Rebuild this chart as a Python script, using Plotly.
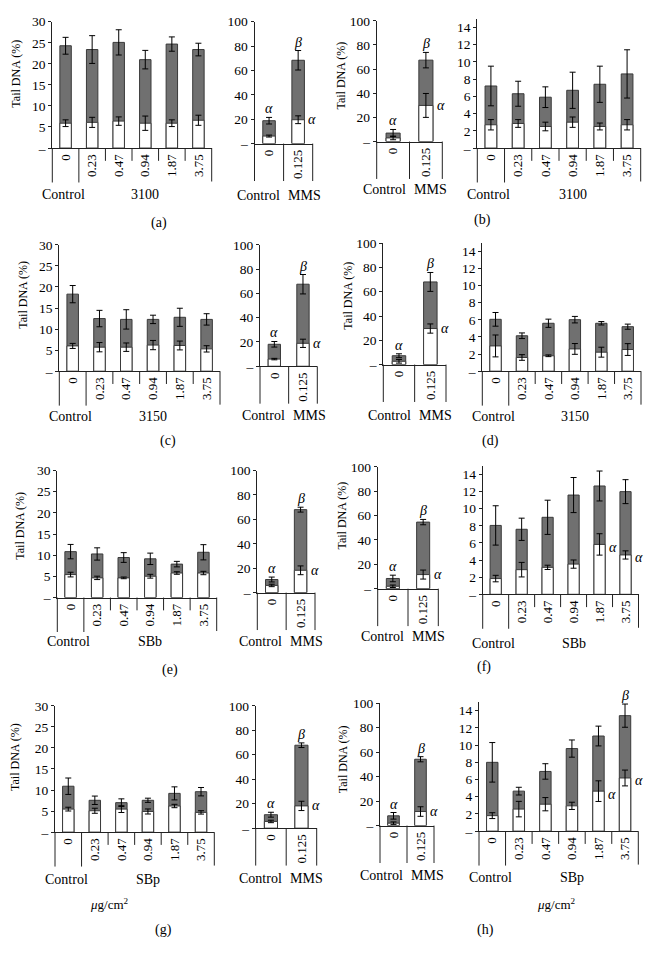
import plotly.graph_objects as go

W, H = 649, 953
FONT = "Liberation Serif"

DOSES = ["0", "0.23", "0.47", "0.94", "1.87", "3.75"]
MMS_DOSES = ["0", "0.125"]

# ---------------- data (Tail DNA %, total = grey, low = white) ----------------
a_tot = [24.3, 23.4, 25.1, 21.0, 24.7, 23.4]
a_tot_err = [2.0, 3.3, 3.0, 2.2, 1.7, 1.5]
a_low = [5.9, 6.1, 6.4, 5.9, 5.9, 6.6]
a_low_err = [0.8, 1.2, 1.0, 1.7, 0.8, 1.2]
a_mms_tot = [18.8, 68.4]
a_mms_tot_err = [2.7, 8.0]
a_mms_low = [6.2, 19.6]
a_mms_low_err = [0.8, 3.2]

b_mms_tot = [7.0, 67.4]
b_mms_tot_err = [3.0, 6.4]
b_mms_low = [3.0, 29.9]
b_mms_low_err = [1.5, 9.9]
b_tot = [7.2, 6.3, 5.9, 6.7, 7.4, 8.6]
b_tot_err = [2.3, 1.45, 1.2, 2.1, 2.1, 2.8]
b_low = [2.7, 2.85, 2.5, 3.0, 2.5, 2.7]
b_low_err = [0.6, 0.45, 0.5, 0.6, 0.4, 0.6]

c_tot = [18.3, 12.5, 12.3, 12.3, 12.8, 12.3]
c_tot_err = [2.05, 1.95, 2.3, 1.0, 2.15, 1.35]
c_low = [6.0, 5.7, 5.7, 6.2, 6.1, 5.3]
c_low_err = [0.6, 1.1, 1.0, 1.1, 1.05, 0.75]
c_mms_tot = [18.1, 67.6]
c_mms_tot_err = [2.3, 8.0]
c_mms_low = [5.9, 18.9]
c_mms_low_err = [0.6, 3.4]

d_mms_tot = [7.3, 68.1]
d_mms_tot_err = [1.6, 7.8]
d_mms_low = [2.7, 29.7]
d_mms_low_err = [1.5, 3.8]
d_tot = [6.06, 4.14, 5.6, 6.02, 5.6, 5.2]
d_tot_err = [0.8, 0.33, 0.48, 0.38, 0.2, 0.3]
d_low = [2.95, 1.6, 1.8, 2.6, 2.22, 2.53]
d_low_err = [1.28, 0.33, 0.1, 0.63, 0.58, 0.69]

e_tot = [10.85, 10.3, 9.46, 9.15, 7.9, 10.7]
e_tot_err = [1.7, 1.45, 1.15, 1.35, 0.65, 1.8]
e_low = [5.43, 4.65, 4.65, 5.04, 5.8, 5.8]
e_low_err = [0.55, 0.4, 0.2, 0.45, 0.3, 0.4]
e_mms_tot = [10.75, 68.0]
e_mms_tot_err = [2.0, 2.0]
e_mms_low = [5.9, 18.3]
e_mms_low_err = [1.0, 3.6]

f_mms_tot = [8.4, 54.7]
f_mms_tot_err = [2.7, 2.2]
f_mms_low = [2.0, 11.6]
f_mms_low_err = [1.0, 3.7]
f_tot = [8.05, 7.6, 9.0, 11.6, 12.66, 12.0]
f_tot_err = [2.3, 1.3, 2.0, 2.05, 1.75, 1.4]
f_low = [1.84, 2.88, 3.15, 3.53, 5.83, 4.6]
f_low_err = [0.38, 0.85, 0.25, 0.48, 1.25, 0.48]

g_tot = [10.9, 7.56, 7.0, 7.56, 9.2, 9.6]
g_tot_err = [1.95, 1.0, 0.9, 0.5, 1.55, 1.0]
g_low = [5.46, 5.07, 5.46, 4.9, 6.2, 4.68]
g_low_err = [0.45, 0.6, 0.8, 0.6, 0.4, 0.4]
g_mms_tot = [11.0, 67.8]
g_mms_tot_err = [2.0, 1.9]
g_mms_low = [5.5, 18.2]
g_mms_low_err = [1.0, 3.8]

h_mms_tot = [8.0, 54.2]
h_mms_tot_err = [2.7, 2.1]
h_mms_low = [2.0, 11.5]
h_mms_low_err = [1.0, 3.9]
h_tot = [8.0, 4.65, 6.94, 9.6, 11.06, 13.43]
h_tot_err = [2.3, 0.45, 0.9, 1.0, 1.15, 1.35]
h_low = [1.8, 2.56, 3.13, 2.94, 4.65, 6.18]
h_low_err = [0.34, 0.9, 0.77, 0.42, 1.2, 0.92]

Y_TITLE = "Tail DNA (%)"
UNIT = "<i>μ</i>g/cm<sup>2</sup>"

# ---------------- panel geometry (pixels) ----------------
# x0, x1, px of top labelled tick, value of that tick, px of zero, axis max, tick step
GEO = {
    "a_dose": (52.3, 211.7, 15.0, 30, 143.3, 30, 5),
    "a_mms": (254.5, 312.7, 15.0, 100, 138.8, 100, 20),
    "b_mms": (376.7, 442.3, 14.0, 100, 136.7, 100, 20),
    "b_dose": (477.3, 640.7, 20.7, 14, 143.3, 15, 2),
    "c_dose": (59.3, 220.0, 241.7, 30, 370.0, 30, 5),
    "c_mms": (260.0, 317.3, 241.7, 100, 365.0, 100, 20),
    "d_mms": (383.3, 446.0, 240.0, 100, 363.3, 100, 20),
    "d_dose": (482.3, 641.0, 248.3, 14, 370.0, 15, 2),
    "e_dose": (57.3, 216.7, 471.0, 30, 600.0, 30, 5),
    "e_mms": (257.3, 315.0, 471.0, 100, 595.0, 100, 20),
    "f_mms": (377.7, 438.3, 467.3, 100, 591.0, 100, 20),
    "f_dose": (482.7, 638.5, 475.0, 14, 596.7, 15, 2),
    "g_dose": (55.0, 214.3, 710.0, 30, 838.3, 30, 5),
    "g_mms": (255.7, 316.7, 710.0, 100, 834.3, 100, 20),
    "h_mms": (380.0, 434.0, 707.3, 100, 831.7, 100, 20),
    "h_dose": (479.0, 638.3, 715.0, 14, 837.3, 15, 2),
}
GROUP_Y = {
    "a_dose": 190, "a_mms": 191.5, "b_mms": 185, "b_dose": 190,
    "c_dose": 416.5, "c_mms": 415, "d_mms": 415, "d_dose": 416.5,
    "e_dose": 645, "e_mms": 645, "f_mms": 640, "f_dose": 646.5,
    "g_dose": 886, "g_mms": 885, "h_mms": 882.5, "h_dose": 884.5,
}
YTITLES = [(15.7, 68), (340.7, 70), (23.3, 292), (348.3, 293),
           (20, 527), (341.7, 517), (15, 762), (343.3, 764)]
LETTERS = [("(a)", 159, 219), ("(b)", 482.5, 216), ("(c)", 168, 441), ("(d)", 490.5, 441),
           ("(e)", 170, 674), ("(f)", 484, 671), ("(g)", 163, 938), ("(h)", 485, 938)]
UNITS = [(109, 911), (556, 911)]

MMS_GREEK = [("α", 0, "top"), ("β", 1, "top"), ("α", 1, "right")]
PANELS = [
    ("a_dose", DOSES, "3100", a_tot, a_tot_err, a_low, a_low_err, []),
    ("a_mms", MMS_DOSES, "MMS", a_mms_tot, a_mms_tot_err, a_mms_low, a_mms_low_err, MMS_GREEK),
    ("b_mms", MMS_DOSES, "MMS", b_mms_tot, b_mms_tot_err, b_mms_low, b_mms_low_err, MMS_GREEK),
    ("b_dose", DOSES, "3100", b_tot, b_tot_err, b_low, b_low_err, []),
    ("c_dose", DOSES, "3150", c_tot, c_tot_err, c_low, c_low_err, []),
    ("c_mms", MMS_DOSES, "MMS", c_mms_tot, c_mms_tot_err, c_mms_low, c_mms_low_err, MMS_GREEK),
    ("d_mms", MMS_DOSES, "MMS", d_mms_tot, d_mms_tot_err, d_mms_low, d_mms_low_err, MMS_GREEK),
    ("d_dose", DOSES, "3150", d_tot, d_tot_err, d_low, d_low_err, []),
    ("e_dose", DOSES, "SBb", e_tot, e_tot_err, e_low, e_low_err, []),
    ("e_mms", MMS_DOSES, "MMS", e_mms_tot, e_mms_tot_err, e_mms_low, e_mms_low_err, MMS_GREEK),
    ("f_mms", MMS_DOSES, "MMS", f_mms_tot, f_mms_tot_err, f_mms_low, f_mms_low_err, MMS_GREEK),
    ("f_dose", DOSES, "SBb", f_tot, f_tot_err, f_low, f_low_err,
     [("α", 4, "rightlow"), ("α", 5, "rightlow")]),
    ("g_dose", DOSES, "SBp", g_tot, g_tot_err, g_low, g_low_err, []),
    ("g_mms", MMS_DOSES, "MMS", g_mms_tot, g_mms_tot_err, g_mms_low, g_mms_low_err, MMS_GREEK),
    ("h_mms", MMS_DOSES, "MMS", h_mms_tot, h_mms_tot_err, h_mms_low, h_mms_low_err, MMS_GREEK),
    ("h_dose", DOSES, "SBp", h_tot, h_tot_err, h_low, h_low_err,
     [("α", 4, "rightlow"), ("β", 5, "top"), ("α", 5, "rightlow")]),
]

GREY = "#707070"
EDGE = "#3a3a3a"
BARW = 0.43

fig = go.Figure()
layout = dict(width=W, height=H, margin=dict(l=0, r=0, t=0, b=0),
              paper_bgcolor="white", plot_bgcolor="white", barmode="overlay",
              showlegend=False, hovermode=False,
              font=dict(family=FONT, color="black", size=13))
annotations = []
shapes = []


def clamp(v):
    return max(0.0, min(1.0, v))


def px_x(p):
    return p / W


def px_y(p):
    return 1 - p / H


for i, (key, cats, group, tot, terr, low, lerr, greek) in enumerate(PANELS, start=1):
    x0, x1, tick_px, tick_val, zero_px, ymax, step = GEO[key]
    scale = (zero_px - tick_px) / tick_val
    top_px = zero_px - ymax * scale
    xa = "x" if i == 1 else f"x{i}"
    ya = "y" if i == 1 else f"y{i}"
    xk = "xaxis" if i == 1 else f"xaxis{i}"
    yk = "yaxis" if i == 1 else f"yaxis{i}"
    n = len(cats)

    tickvals = [v for v in range(0, int(ymax) + 1, step)]
    ticktext = ["–"] + [str(v) for v in tickvals[1:]]

    layout[xk] = dict(domain=[clamp(px_x(x0)), clamp(px_x(x1))], anchor=ya, type="category",
                      range=[-0.5, n - 0.5], showline=True, linecolor="#222", linewidth=1,
                      showgrid=False, zeroline=False, ticks="", tickangle=-90,
                      tickfont=dict(family=FONT, size=13, color="black"), fixedrange=True)
    layout[yk] = dict(domain=[clamp(px_y(zero_px)), clamp(px_y(top_px))], anchor=xa,
                      range=[0, ymax],
                      tickvals=tickvals, ticktext=ticktext, showline=True, linecolor="#222",
                      linewidth=1, showgrid=False, zeroline=False, ticks="outside",
                      ticklen=3, tickcolor="#222",
                      tickfont=dict(family=FONT, size=13.5, color="black"), fixedrange=True)

    fig.add_trace(go.Bar(x=cats, y=tot, width=BARW, xaxis=xa, yaxis=ya,
                         marker=dict(color=GREY, line=dict(color=EDGE, width=1)),
                         error_y=dict(type="data", array=terr, color="black",
                                      thickness=1, width=3)))
    fig.add_trace(go.Bar(x=cats, y=low, width=BARW, xaxis=xa, yaxis=ya,
                         marker=dict(color="white", line=dict(color=EDGE, width=1)),
                         error_y=dict(type="data", array=lerr, color="black",
                                      thickness=1, width=3)))

    # category separators below the axis (Excel multi-level axis look)
    line = dict(color="#222", width=1)
    if n == 6:
        seps = [(0, 35), (1, 35), (2, 13), (3, 13), (4, 13), (5, 13), (6, 34)]
    else:
        seps = [(0, 38), (1, 38), (2, 38)]
    for k, ln in seps:
        shapes.append(dict(type="line", xref=f"{xa} domain", yref="paper",
                           x0=k / n, x1=k / n, y0=px_y(zero_px), y1=px_y(zero_px + ln),
                           line=line, layer="above"))

    # group labels
    gy = px_y(GROUP_Y[key])
    if n == 6:
        annotations.append(dict(text="Control", xref=f"{xa} domain", yref="paper",
                                x=0.5 / n, y=gy, xanchor="center", yanchor="middle",
                                xshift=-2, showarrow=False, font=dict(size=14)))
        annotations.append(dict(text=group, xref=f"{xa} domain", yref="paper",
                                x=3.5 / n, y=gy, xanchor="center", yanchor="middle",
                                showarrow=False, font=dict(size=14)))
    else:
        annotations.append(dict(text="Control", xref=f"{xa} domain", yref="paper",
                                x=0.5, y=gy, xanchor="right", yanchor="middle",
                                xshift=-2, showarrow=False, font=dict(size=14)))
        annotations.append(dict(text=group, xref=f"{xa} domain", yref="paper",
                                x=0.5, y=gy, xanchor="left", yanchor="middle",
                                xshift=2, showarrow=False, font=dict(size=14)))

    # significance letters
    for sym, ci, where in greek:
        if where == "top":
            annotations.append(dict(text=f"<i>{sym}</i>", xref=f"{xa} domain", yref=ya,
                                    x=(ci + 0.5) / n, y=tot[ci] + terr[ci],
                                    xanchor="center", yanchor="bottom", yshift=-1,
                                    showarrow=False, font=dict(size=14)))
        else:
            annotations.append(dict(text=f"<i>{sym}</i>", xref=f"{xa} domain", yref=ya,
                                    x=(ci + 0.5 + BARW / 2) / n, y=low[ci],
                                    xanchor="left", yanchor="middle", xshift=2,
                                    yshift=-3 if where == "rightlow" else 0,
                                    showarrow=False, font=dict(size=14)))

for (x, y) in YTITLES:
    annotations.append(dict(text=Y_TITLE, xref="paper", yref="paper", x=px_x(x), y=px_y(y),
                            xanchor="center", yanchor="middle", textangle=-90,
                            showarrow=False, font=dict(size=12)))
for (t, x, y) in LETTERS:
    annotations.append(dict(text=t, xref="paper", yref="paper", x=px_x(x), y=px_y(y),
                            xanchor="center", yanchor="middle", showarrow=False,
                            font=dict(size=14)))
for (x, y) in UNITS:
    annotations.append(dict(text=UNIT, xref="paper", yref="paper", x=px_x(x), y=px_y(y),
                            xanchor="center", yanchor="middle", showarrow=False,
                            font=dict(size=13)))

layout["annotations"] = annotations
layout["shapes"] = shapes
fig.update_layout(**layout)

# pin the figure to the window's top-left corner (no default body margin)
PIN = ("document.documentElement.style.margin='0';"
       "document.body.style.margin='0';"
       "document.body.style.overflow='hidden';"
       "var d=document.getElementById('{plot_id}');"
       "d.style.position='absolute';d.style.left='0px';d.style.top='0px';")
fig.write_html("out.html", post_script=PIN,
               config={"displayModeBar": False, "staticPlot": True})
